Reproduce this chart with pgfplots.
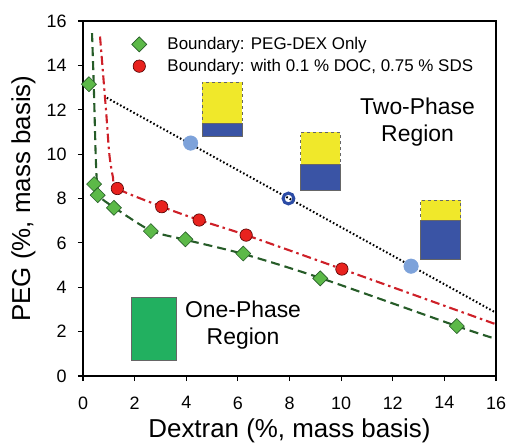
\documentclass[border=0pt]{standalone}
\usepackage{fontspec}
\setmainfont{Liberation Sans}
\usepackage{pgfplots}
\pgfplotsset{compat=1.18}

\definecolor{mkgreen}{RGB}{92,185,72}
\definecolor{lngreen}{RGB}{38,92,40}
\definecolor{mkred}{RGB}{232,34,30}
\definecolor{lnred}{RGB}{206,32,40}
\definecolor{ltblue}{RGB}{125,162,218}
\definecolor{dkblue}{RGB}{43,75,165}
\definecolor{topyel}{RGB}{240,232,42}
\definecolor{botblue}{RGB}{58,84,165}
\definecolor{onegreen}{RGB}{34,176,96}

\begin{document}
\begin{tikzpicture}
\useasboundingbox (-83bp,-67bp) rectangle (424bp,376bp);
\begin{axis}[
  scale only axis,
  width=413bp, height=355bp,
  xmin=0, xmax=16, ymin=0, ymax=16,
  xtick={0,2,...,16}, ytick={0,2,...,16},
  tick align=outside, tick pos=left,
  major tick length=5bp,
  axis line style={line width=1.3bp},
  every tick/.style={black, line width=1.1bp},
  /pgf/number format/assume math mode=true,
  tick label style={font=\fontsize{18}{20}\selectfont},
  xticklabel style={yshift=-12bp},
  yticklabel style={xshift=-8bp},
  xlabel={Dextran (\%, mass basis)},
  ylabel={PEG (\%, mass basis)},
  every axis x label/.style={at={(axis description cs:0.5,-0.1732)}, anchor=base, font=\fontsize{26}{30}\selectfont},
  every axis y label/.style={at={(axis description cs:-0.128,0.5)}, rotate=90, anchor=base, font=\fontsize{26}{30}\selectfont},
  legend style={at={(axis description cs:0.099,0.9625)}, anchor=north west,
    draw=none, fill=none, font=\fontsize{17}{19}\selectfont,
    nodes={inner sep=1bp}, row sep=6bp},
  legend cell align=left,
  legend image code/.code={\path (-12bp,0bp) (27bp,0bp); \draw[#1] plot coordinates {(0bp,0bp)};},
  clip=false,
]
\addlegendimage{only marks, mark=square*, mark size=5.3bp, mark options={rotate=45, fill=mkgreen, draw=lngreen, line width=0.6bp}}
\addlegendentry{Boundary: PEG-DEX Only}
\addlegendimage{only marks, mark=*, mark size=6.2bp, mark options={fill=mkred, draw=black!70!red, line width=0.6bp}}
\addlegendentry{Boundary: with 0.1 \% DOC, 0.75 \% SDS}

% phase pictograms
\addplot[forget plot, fill=topyel, draw=black!60, dashed, line width=0.5bp] coordinates {(4.62,11.41) (6.16,11.41) (6.16,13.26) (4.62,13.26)} -- cycle;
\addplot[forget plot, fill=botblue, draw=black!60, line width=0.5bp] coordinates {(4.62,10.82) (6.16,10.82) (6.16,11.41) (4.62,11.41)} -- cycle;
\addplot[forget plot, fill=topyel, draw=black!60, dashed, line width=0.5bp] coordinates {(8.43,9.54) (9.97,9.54) (9.97,10.98) (8.43,10.98)} -- cycle;
\addplot[forget plot, fill=botblue, draw=black!60, line width=0.5bp] coordinates {(8.43,8.35) (9.97,8.35) (9.97,9.54) (8.43,9.54)} -- cycle;
\addplot[forget plot, fill=topyel, draw=black!60, dashed, line width=0.5bp] coordinates {(13.08,7.03) (14.63,7.03) (14.63,7.92) (13.08,7.92)} -- cycle;
\addplot[forget plot, fill=botblue, draw=black!60, line width=0.5bp] coordinates {(13.08,5.27) (14.63,5.27) (14.63,7.03) (13.08,7.03)} -- cycle;
\addplot[forget plot, fill=onegreen, draw=black!60, line width=0.5bp] coordinates {(1.86,0.71) (3.61,0.71) (3.61,3.56) (1.86,3.56)} -- cycle;

% tie line
\addplot[forget plot, black, line width=2bp, dash pattern=on 1.6bp off 2.2bp] coordinates {(0.92,12.54) (16,2.85)};

% boundary curves
\addplot[forget plot, lngreen, line width=2.1bp, dash pattern=on 9bp off 5bp, smooth, tension=0.45] coordinates {
  (0.35,15.45) (0.42,13.0) (0.49,10.0) (0.54,8.75) (0.62,8.12) (1.20,7.60)
  (2.63,6.55) (3.97,6.14) (6.21,5.50) (9.19,4.42) (14.48,2.25) (16,1.67)};
\addplot[forget plot, lnred, line width=2.1bp, dash pattern=on 9bp off 4bp on 2.5bp off 4bp, smooth, tension=0.45] coordinates {
  (0.66,15.3) (0.89,12.0) (1.02,10.0) (1.16,8.97) (1.33,8.45) (3.05,7.63)
  (4.50,7.03) (6.32,6.35) (10.03,4.82) (16,2.33)};

% data
\addplot[forget plot, only marks, mark=square*, mark size=5.3bp, mark options={rotate=45, fill=mkgreen, draw=lngreen, line width=0.6bp}] coordinates {
  (0.23,13.15) (0.43,8.65) (0.57,8.15) (1.20,7.58) (2.63,6.53) (3.97,6.16) (6.21,5.52) (9.19,4.40) (14.48,2.25)};
\addplot[forget plot, only marks, mark=*, mark size=6.2bp, mark options={fill=mkred, draw=black!70!red, line width=0.6bp}] coordinates {
  (1.33,8.45) (3.05,7.63) (4.50,7.03) (6.32,6.35) (10.03,4.82)};
\addplot[forget plot, only marks, mark=*, mark size=7.3bp, mark options={fill=ltblue, draw=ltblue}] coordinates {
  (4.17,10.50) (12.71,4.95)};
\addplot[forget plot, only marks, mark=o, mark size=5.4bp, mark options={draw=dkblue, line width=3bp, fill=white}] coordinates {
  (7.96,8.00)};

\node[align=center, font=\fontsize{23}{27.5}\selectfont] at (axis cs:12.96,11.45) {Two-Phase\\Region};
\node[align=center, font=\fontsize{23}{27.5}\selectfont] at (axis cs:6.2,2.3) {One-Phase\\Region};
\end{axis}
\end{tikzpicture}
\end{document}
